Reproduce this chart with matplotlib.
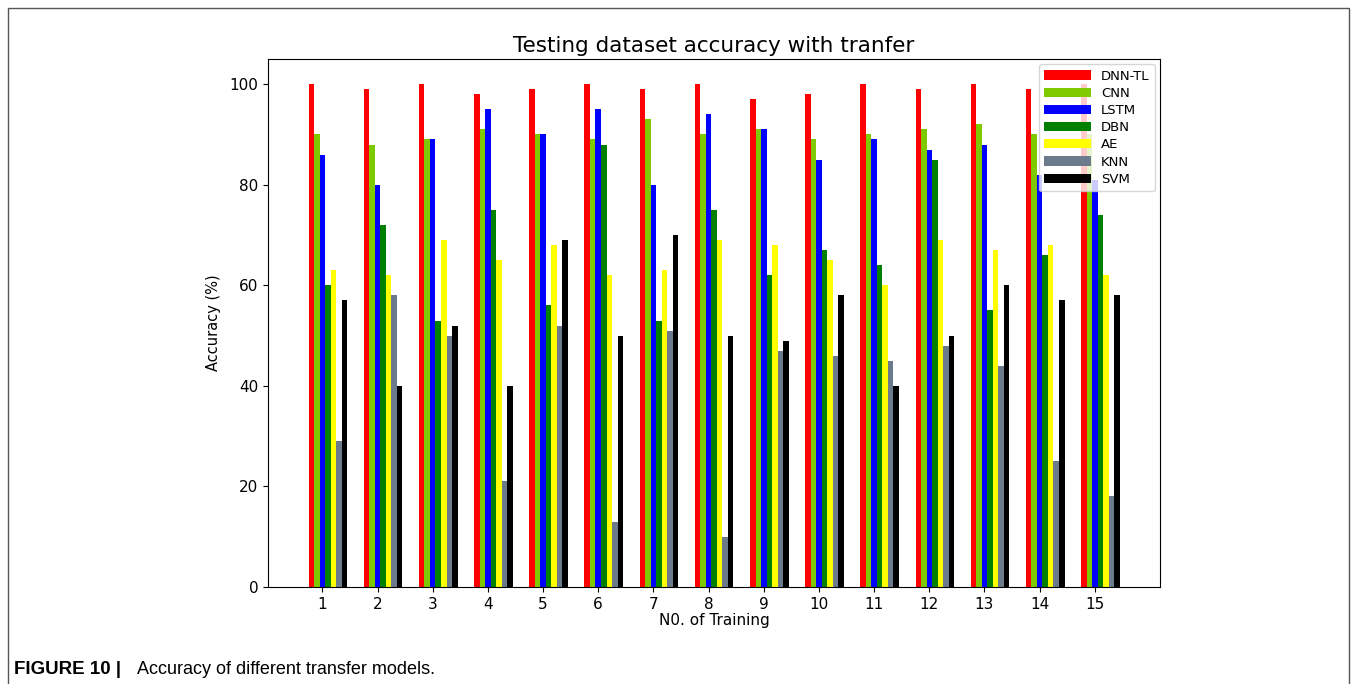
import matplotlib.pyplot as plt
import numpy as np
from matplotlib.patches import Rectangle

trainings = [1, 2, 3, 4, 5, 6, 7, 8, 9, 10, 11, 12, 13, 14, 15]
dnn_tl = [100, 99, 100, 98, 99, 100, 99, 100, 97, 98, 100, 99, 100, 99, 100]
cnn = [90, 88, 89, 91, 90, 89, 93, 90, 91, 89, 90, 91, 92, 90, 90]
lstm = [86, 80, 89, 95, 90, 95, 80, 94, 91, 85, 89, 87, 88, 82, 81]
dbn = [60, 72, 53, 75, 56, 88, 53, 75, 62, 67, 64, 85, 55, 66, 74]
ae = [63, 62, 69, 65, 68, 62, 63, 69, 68, 65, 60, 69, 67, 68, 62]
knn = [29, 58, 50, 21, 52, 13, 51, 10, 47, 46, 45, 48, 44, 25, 18]
svm = [57, 40, 52, 40, 69, 50, 70, 50, 49, 58, 40, 50, 60, 57, 58]

names = ["DNN-TL", "CNN", "LSTM", "DBN", "AE", "KNN", "SVM"]
colors = ["#ff0000", "#7fc900", "#0000ff", "#008000", "#ffff00", "#6b7b8b", "#000000"]

fig = plt.figure(figsize=(13.57, 6.84), dpi=100)
ax = fig.add_axes([0.1975, 0.1418, 0.6575, 0.7719])

x = np.array(trainings)
w = 0.1
series = [dnn_tl, cnn, lstm, dbn, ae, knn, svm]
for i, (vals, name, c) in enumerate(zip(series, names, colors)):
    ax.bar(x + (i - 2) * w, vals, width=w, color=c, label=name)

ax.set_xticks(x)
ax.set_xticklabels([str(t) for t in trainings], fontsize=11)
ax.tick_params(axis="y", labelsize=11)
ax.set_xlabel("N0. of Training", fontsize=11, labelpad=1)
ax.set_ylabel("Accuracy (%)", fontsize=10.5, labelpad=6)
ax.set_title("Testing dataset accuracy with tranfer", fontsize=15.5, pad=5)
ax.legend(loc="upper right", fontsize=9.5, handlelength=3.5, labelspacing=0.32,
          borderaxespad=0.4)

# outer frame of the figure panel
fig.patches.append(Rectangle((0.006, -0.01), 0.988, 0.998, transform=fig.transFigure,
                             fill=False, edgecolor="#555555", linewidth=1))

fig.text(0.0105, 0.015, "FIGURE 10 |", fontsize=13.5, fontweight="bold",
         family="Liberation Sans")
fig.text(0.101, 0.015, "Accuracy of different transfer models.", fontsize=13,
         family="Liberation Sans")

fig.savefig("out.png", dpi=100)
